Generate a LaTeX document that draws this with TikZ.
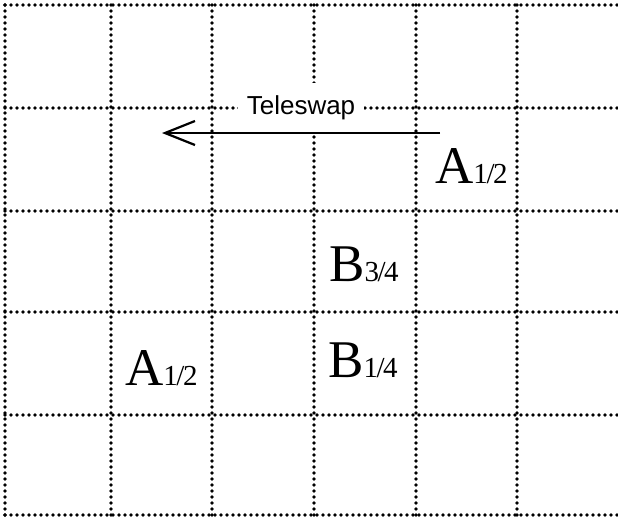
\documentclass[tikz,border=0pt]{standalone}
\usepackage{fontspec}
\setmainfont{Liberation Serif}
\newfontfamily\swapfont{Liberation Sans}
\usetikzlibrary{arrows.meta}
\newcommand{\cellmark}[2]{{\fontsize{53}{53}\selectfont #1}{\fontsize{29}{29}\selectfont #2}}
\tikzset{
  gridline/.style={line width=3.6pt, line cap=round, dash pattern=on 0pt off 6pt},
  cellletter/.style={anchor=base west, inner sep=0pt},
  swaplabel/.style={
    fill=white, inner xsep=9pt, inner ysep=0pt, minimum height=50pt,
    font=\swapfont\fontsize{26}{26}\selectfont
  },
  swaparrow/.style={
    line width=2.2pt, -{Straight Barb[length=30pt, width=24pt, line width=2.2pt]}
  }
}
\begin{document}
\begin{tikzpicture}[x=1pt, y=-1pt]
  \useasboundingbox (0,0) rectangle (618,517);

  % dotted grid
  \foreach \gx in {5,111,212,314,416,517}
    \draw[gridline] (\gx,5) -- (\gx,516);
  \foreach \gy in {5,108,211,312,415,515}
    \draw[gridline] (5,\gy) -- (618,\gy);

  % teleswap
  \node[swaplabel] (swaptext) at (301,108) {Teleswap};
  \coordinate (swapstart) at (440,133);
  \coordinate (swapend) at (162,133);
  \draw[swaparrow] (swapstart) -- (swapend);

  % particles
  \node[cellletter] (atop) at (435,183) {\cellmark{A}{1\kern-1.5pt/\kern-1.5pt2}};
  \node[cellletter] (bthree) at (329,281) {\cellmark{B}{3\kern-1.5pt/\kern-1.5pt4}};
  \node[cellletter] (bone) at (328,377) {\cellmark{B}{1\kern-1.5pt/\kern-1.5pt4}};
  \node[cellletter] (aleft) at (125,385) {\cellmark{A}{1\kern-1.5pt/\kern-1.5pt2}};
\end{tikzpicture}
\end{document}
